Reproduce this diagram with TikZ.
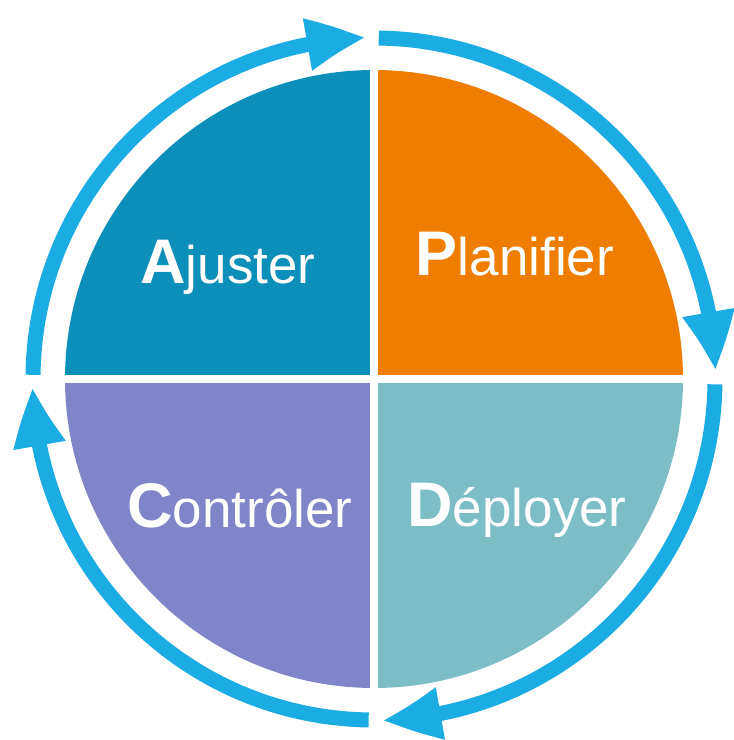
\documentclass[tikz,border=0pt]{standalone}
\usepackage{fontspec}
\setmainfont{Liberation Sans}
\usetikzlibrary{arrows.meta,bending}
\definecolor{cA}{RGB}{12,143,185}
\definecolor{cP}{RGB}{238,125,0}
\definecolor{cC}{RGB}{127,133,200}
\definecolor{cD}{RGB}{125,190,198}
\definecolor{cR}{RGB}{27,172,227}
\newcommand\initl[1]{{\fontsize{63}{63}\selectfont\bfseries #1}}
\newcommand\resttxt[1]{{\fontsize{53}{53}\selectfont #1}}
\begin{document}
\begin{tikzpicture}[x=1pt,y=1pt,
  ring/.style={line width=15pt, draw=cR, -{Triangle[length=60pt,width=48pt,bend]}},
  lab/.style={text=white, anchor=base, inner sep=0pt}]
\useasboundingbox (0,0) rectangle (734,740);
\coordinate (O) at (374,361);
\begin{scope}
  \clip (O) circle[radius=309pt];
  \fill[cA] ([shift={(-4,4)}]O) rectangle ++(-330,330);
  \fill[cP] ([shift={(4,4)}]O) rectangle ++(330,330);
  \fill[cC] ([shift={(-4,-4)}]O) rectangle ++(-330,-330);
  \fill[cD] ([shift={(4,-4)}]O) rectangle ++(330,-330);
\end{scope}
\draw[ring] ([shift={(179.3:341pt)}]O) arc[start angle=179.3, end angle=91.3, radius=341pt];
\draw[ring] ([shift={(89.2:341pt)}]O) arc[start angle=89.2, end angle=1.3, radius=341pt];
\draw[ring] ([shift={(-0.9:341pt)}]O) arc[start angle=-0.9, end angle=-88.7, radius=341pt];
\draw[ring] ([shift={(-90.9:341pt)}]O) arc[start angle=-90.9, end angle=-178.7, radius=341pt];
\node[lab] (ajuster) at (228,456) {\initl{A}\resttxt{juster}};
\node[lab] (planifier) at (515,464) {\initl{P}\resttxt{lanifier}};
\node[lab] (controler) at (240,212) {\initl{C}\resttxt{ontrôler}};
\node[lab] (deployer) at (517,213) {\initl{D}\resttxt{éployer}};
\end{tikzpicture}
\end{document}
